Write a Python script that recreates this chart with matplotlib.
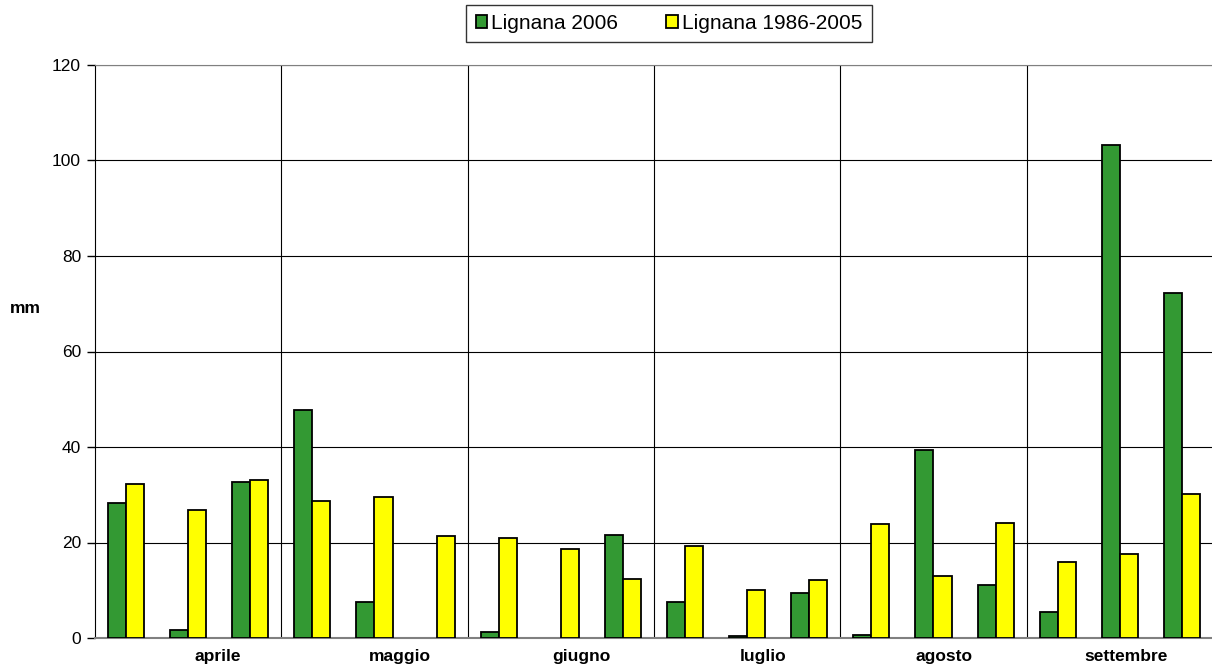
import numpy as np
import matplotlib
matplotlib.use("Agg")
import matplotlib.pyplot as plt

# monthly rainfall by decade (3 decades per month)
MONTHS = ["aprile", "maggio", "giugno", "luglio", "agosto", "settembre"]
LIGNANA_2006 = [28.3, 1.7, 32.6, 47.8, 7.5, 0, 1.3, 0, 21.5,
                7.6, 0.5, 9.5, 0.6, 39.3, 11.1, 5.5, 103.3, 72.2]
LIGNANA_1986_2005 = [32.2, 26.8, 33.1, 28.7, 29.5, 21.3, 20.9, 18.6, 12.4,
                     19.3, 10.1, 12.2, 23.8, 12.9, 24.0, 15.9, 17.5, 30.1]
Y_TICKS = [0, 20, 40, 60, 80, 100, 120]

plt.rcParams['font.family'] = ['Liberation Sans', 'DejaVu Sans']

fig = plt.figure(figsize=(12.12, 6.66), dpi=100)
ax = fig.add_axes([95 / 1212, 1 - 638 / 666, 1118 / 1212, 573 / 666])

x = np.arange(len(LIGNANA_2006))
w = 0.29
green = ax.bar(x - w / 2, LIGNANA_2006, w, color='#339933', edgecolor='black',
               linewidth=1.3, label='Lignana 2006', zorder=3)
yellow = ax.bar(x + w / 2, LIGNANA_1986_2005, w, color='#ffff00', edgecolor='black',
                linewidth=1.3, label='Lignana 1986-2005', zorder=3)
for b in list(green) + list(yellow):
    if b.get_height() == 0:
        b.set_visible(False)

ax.set_xlim(-0.5, len(x) - 0.5)
ax.set_ylim(0, 120)
ax.set_yticks(Y_TICKS)
ax.tick_params(axis='y', direction='out', length=6, width=1, labelsize=12.5, pad=4)

# month labels, Excel places them a bit off the group centres
label_pos = np.linspace(1.48, 16.1, len(MONTHS))
ax.set_xticks(label_pos)
ax.set_xticklabels(MONTHS, fontweight='bold', fontsize=12.5)
ax.tick_params(axis='x', length=0, pad=8)

ax.set_xticks(np.arange(2.5, len(x) - 1, 3), minor=True)
ax.tick_params(axis='x', which='minor', length=0)
ax.grid(axis='y', which='major', color='black', linewidth=0.8, zorder=0)
ax.grid(axis='x', which='minor', color='black', linewidth=0.8, zorder=0)
ax.set_axisbelow(True)

ax.spines['right'].set_visible(False)
ax.spines['top'].set_color('#808080')
ax.spines['bottom'].set_color('#808080')
ax.spines['bottom'].set_linewidth(1.5)
ax.spines['left'].set_color('black')

fig.text(25 / 1212, 1 - 309 / 666, 'mm', fontweight='bold', fontsize=12.5,
         ha='center', va='center')

leg = fig.legend(loc='center', bbox_to_anchor=(669 / 1212, 1 - 23.5 / 666), ncol=2,
                 fontsize=15, frameon=True, fancybox=False, edgecolor='black',
                 handlelength=0.55, handleheight=0.55, handletextpad=0.2,
                 columnspacing=2.3, borderpad=0.45, borderaxespad=0)
leg.get_frame().set_linewidth(1.0)

fig.savefig('out.png', dpi=100)
